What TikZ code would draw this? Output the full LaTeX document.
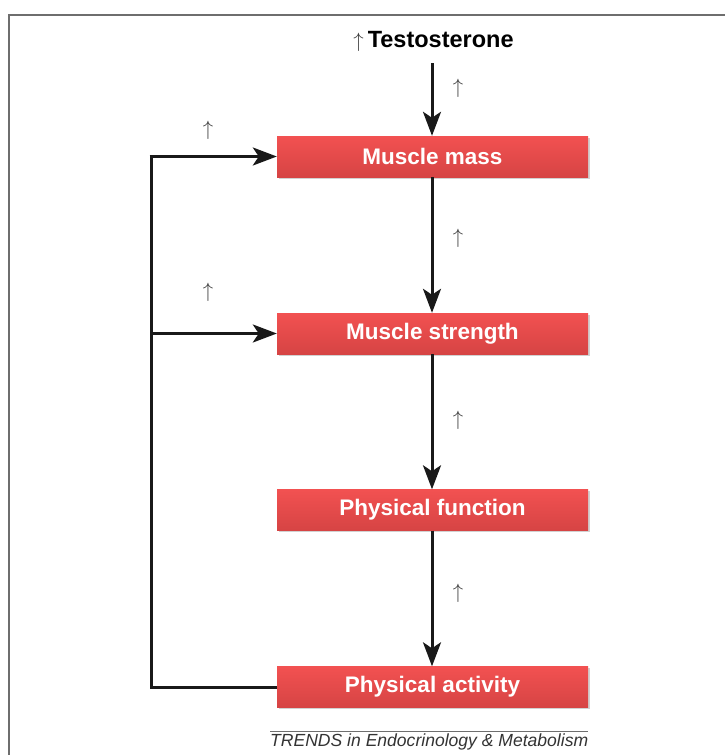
\documentclass[tikz,border=0pt]{standalone}
\usepackage{fontspec}
\setmainfont{Liberation Sans}
\usetikzlibrary{arrows.meta,shadows}
\definecolor{boxtop}{HTML}{F25151}
\definecolor{boxbot}{HTML}{D64444}
\definecolor{framegray}{HTML}{6E6E6E}
\definecolor{upgray}{HTML}{3C3C3C}
\begin{document}
\begin{tikzpicture}[x=1pt,y=-1pt,
  stagebox/.style={minimum width=311pt, minimum height=41pt, inner sep=0pt,
    top color=boxtop, bottom color=boxbot, draw=none,
    drop shadow={shadow xshift=1.5pt, shadow yshift=-1.5pt, fill=black, opacity=0.18},
    text=white, font=\fontsize{22.5}{25}\selectfont\bfseries},
  flow/.style={line width=3pt, draw=black!90,
    -{Stealth[length=24pt, width=18pt, inset=6pt]}},
  link/.style={line width=3pt, draw=black!90},
  uparrow/.style={text=upgray, font=\fontsize{20}{22}\selectfont, inner sep=0pt}]
  \useasboundingbox (0,0) rectangle (724,755);
  % frame around the figure
  \draw[framegray, line width=2.2pt] (9,765) -- (9,15) -- (734,15);

  % stages
  \node[font=\fontsize{23.5}{26}\selectfont, inner sep=1pt] (testo) at (433.5,41)
    {{\fontsize{21}{24}\selectfont\color{upgray}$\uparrow$}\hspace{4pt}\textbf{Testosterone}};
  \node[stagebox] (mass) at (432.5,156.5) {Muscle mass};
  \node[stagebox] (strength) at (432.5,333.5) {Muscle strength};
  \node[stagebox] (function) at (432.5,510) {Physical function};
  \node[stagebox] (activity) at (432.5,687) {Physical activity};

  % main chain
  \draw[flow] (432,63) -- (mass.north -| 432,0);
  \draw[flow] (mass.south -| 432,0) -- (strength.north -| 432,0);
  \draw[flow] (strength.south -| 432,0) -- (function.north -| 432,0);
  \draw[flow] (function.south -| 432,0) -- (activity.north -| 432,0);

  % feedback loop from activity
  \coordinate (loopbot) at (151,687);
  \coordinate (looptop) at (151,156.5);
  \coordinate (loopmid) at (151,333.5);
  \draw[link] (activity.west) -- (loopbot) -- (looptop);
  \draw[flow] ([xshift=-1.5pt]looptop) -- (mass.west);
  \draw[flow] (loopmid) -- (strength.west);

  % increase markers
  \node[uparrow] (u1) at (458,88) {$\uparrow$};
  \node[uparrow] (u2) at (458,238) {$\uparrow$};
  \node[uparrow] (u3) at (458,420) {$\uparrow$};
  \node[uparrow] (u4) at (458,593) {$\uparrow$};
  \node[uparrow] (u5) at (208,130) {$\uparrow$};
  \node[uparrow] (u6) at (208,292) {$\uparrow$};

  % journal credit
  \coordinate (ruleL) at (270,731);
  \coordinate (ruleR) at (588,731);
  \draw[framegray, line width=1pt] (ruleL) -- (ruleR);
  \node[anchor=north west, inner sep=0pt, text=black!80] (credit) at (270,733.5)
    {\resizebox{318pt}{!}{\fontsize{17}{19}\selectfont\itshape TRENDS in Endocrinology \& Metabolism}};
\end{tikzpicture}
\end{document}
